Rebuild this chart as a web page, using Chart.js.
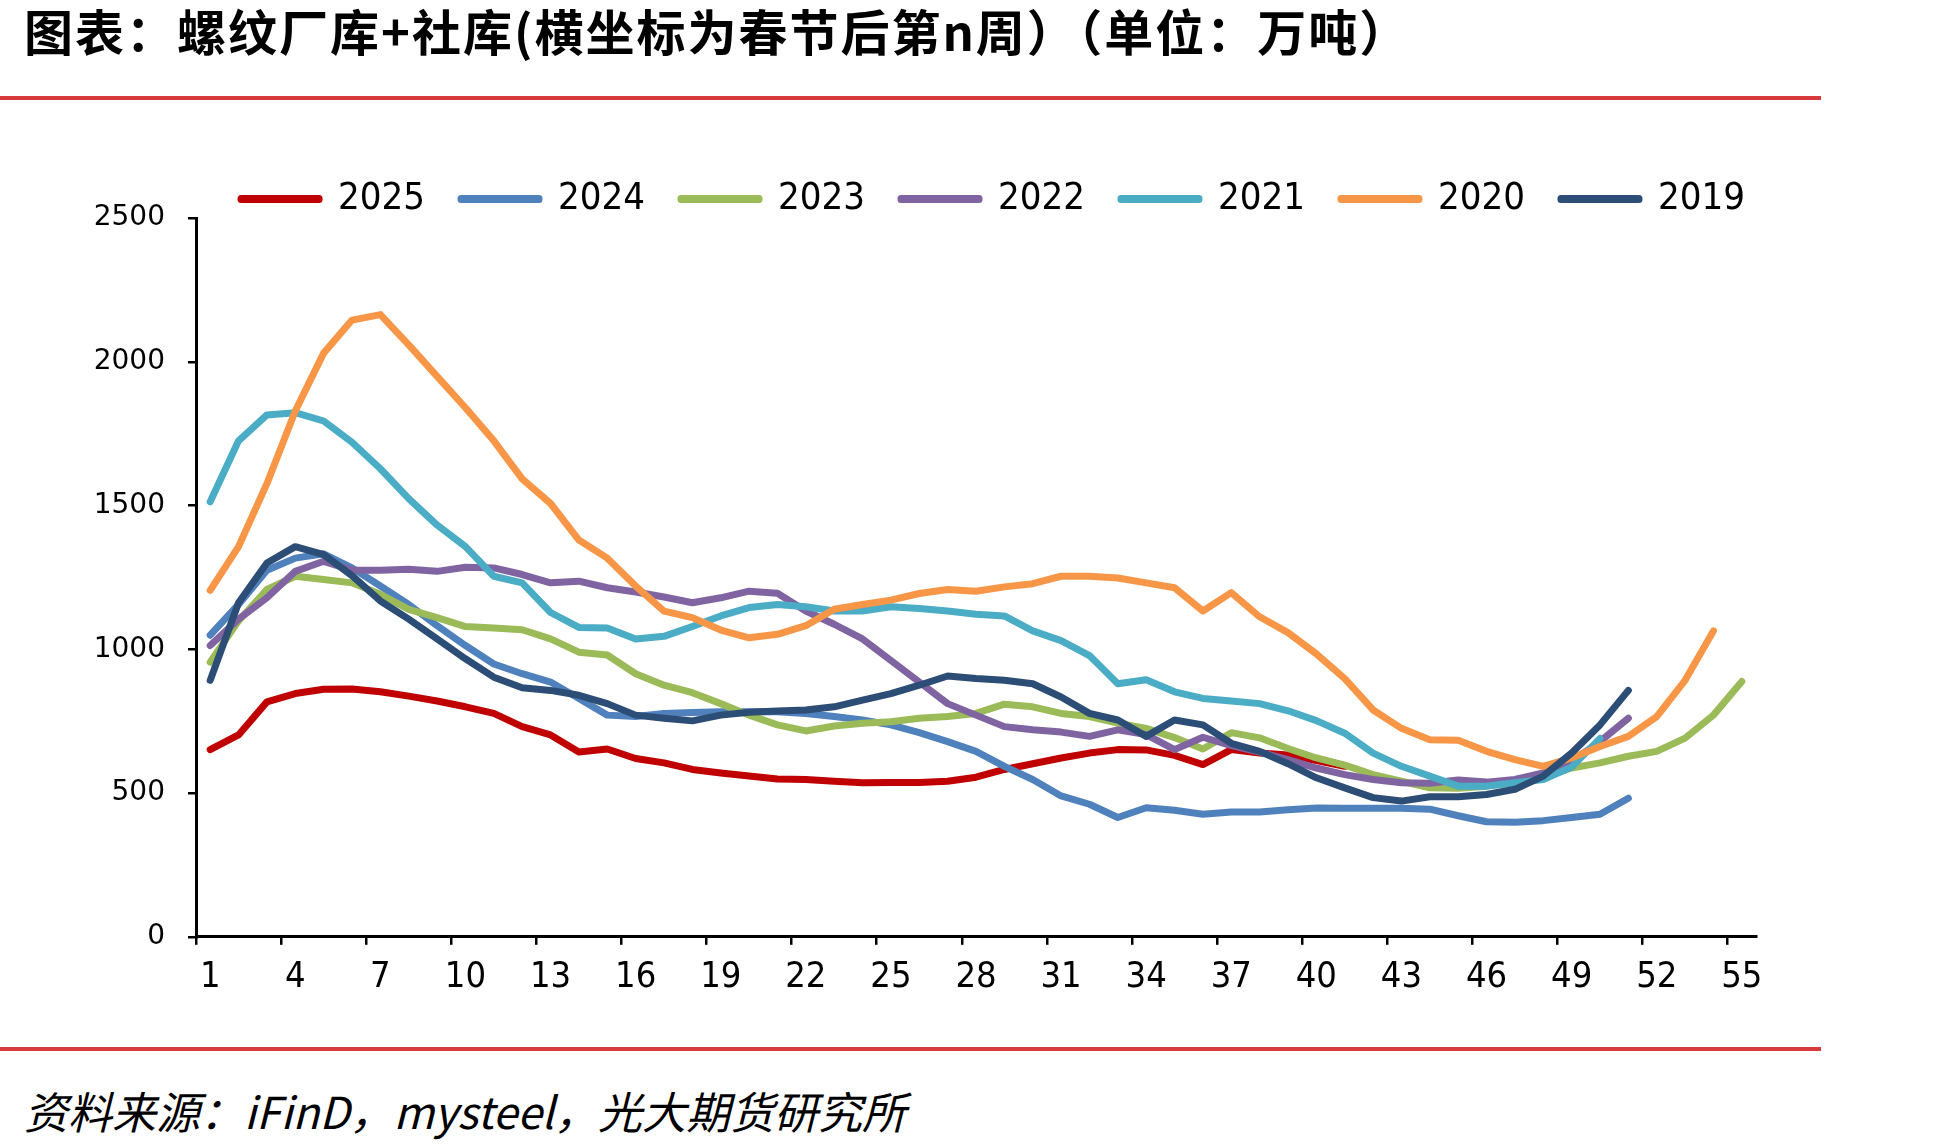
<!DOCTYPE html>
<html lang="zh-CN">
<head>
<meta charset="UTF-8">
<title>螺纹厂库+社库</title>
<script src="https://cdn.jsdelivr.net/npm/chart.js"></script>
<style>
  body {
    margin: 0;
    width: 1960px;
    height: 1146px;
    background: #fff;
    position: relative;
    overflow: hidden;
    font-family: 'Noto Sans CJK SC', sans-serif;
  }
  #title {
    position: absolute;
    left: 24px;
    top: 2px;
    font-size: 49px;
    font-weight: bold;
    letter-spacing: 2px;
    line-height: 56px;
    color: #000;
    white-space: nowrap;
  }
  .rule {
    position: absolute;
    left: 0;
    width: 1821px;
    height: 4px;
    background: #d7393c;
  }
  #source {
    position: absolute;
    left: 24px;
    top: 1086px;
    font-size: 44px;
    font-style: italic;
    line-height: 48px;
    color: #000;
    white-space: nowrap;
  }
  .chart-box {
    position: absolute;
    left: 0;
    top: 120px;
    width: 1960px;
    height: 890px;
  }
</style>
</head>
<body>
<div id="title">图表：螺纹厂库+社库(横坐标为春节后第n周）（单位：万吨）</div>
<div class="rule" style="top:96px"></div>
<div class="chart-box"><canvas id="stockChart"></canvas></div>
<div class="rule" style="top:1047px"></div>
<div id="source">资料来源：iFinD，mysteel，光大期货研究所</div>

<script>
// weeks after Spring Festival
const weeks = [1, 2, 3, 4, 5, 6, 7, 8, 9, 10, 11, 12, 13, 14, 15, 16, 17, 18, 19, 20,
  21, 22, 23, 24, 25, 26, 27, 28, 29, 30, 31, 32, 33, 34, 35, 36, 37, 38, 39, 40,
  41, 42, 43, 44, 45, 46, 47, 48, 49, 50, 51, 52, 53, 54, 55];

const years = ['2025', '2024', '2023', '2022', '2021', '2020', '2019'];
const colors = ['#C00000', '#4F81BD', '#9BBB59', '#8064A2', '#4BACC6', '#F79646', '#2C4D75'];

// rebar plant + social stocks, 10k tonnes
const s2025 = [651, 702, 817, 846, 861, 862, 852, 837, 820, 800, 777, 731, 702, 643, 653, 620, 605, 582, 570, 559,
  549, 547, 541, 536, 537, 537, 541, 555, 582, 602, 622, 639, 651, 650, 631, 599, 651, 639, 632, 613, 593];
const s2024 = [1049, 1156, 1275, 1317, 1332, 1283, 1220, 1156, 1082, 1013, 949, 915, 886, 829, 771, 766, 777, 780, 783, 783,
  783, 777, 766, 754, 737, 710, 679, 645, 593, 547, 490, 461, 415, 449, 440, 426, 434, 434, 442, 448,
  447, 447, 447, 444, 421, 400, 398, 404, 415, 426, 482];
const s2023 = [955, 1099, 1208, 1254, 1243, 1231, 1191, 1139, 1110, 1079, 1074, 1068, 1036, 990, 980, 915, 875, 849, 811, 771,
  737, 716, 733, 743, 748, 760, 766, 777, 809, 800, 777, 766, 743, 725, 693, 653, 710, 692, 655, 622,
  597, 564, 541, 518, 517, 524, 536, 555, 587, 605, 628, 645, 691, 771, 888];
const s2022 = [1013, 1105, 1179, 1271, 1306, 1275, 1275, 1278, 1271, 1285, 1283, 1260, 1231, 1237, 1214, 1199, 1182, 1162, 1179, 1202,
  1195, 1133, 1087, 1036, 961, 886, 811, 771, 731, 720, 712, 697, 720, 703, 651, 694, 665, 642, 616, 587,
  564, 547, 536, 534, 545, 538, 547, 570, 610, 679, 760];
const s2021 = [1513, 1725, 1815, 1823, 1794, 1720, 1628, 1524, 1432, 1357, 1254, 1231, 1128, 1076, 1074, 1036, 1045, 1079, 1116, 1145,
  1156, 1148, 1133, 1133, 1148, 1142, 1133, 1122, 1116, 1064, 1030, 978, 880, 894, 852, 829, 820, 811, 786, 752,
  708, 639, 593, 559, 524, 524, 536, 547, 590, 690];
const s2020 = [1205, 1357, 1576, 1829, 2030, 2145, 2164, 2059, 1949, 1840, 1725, 1593, 1507, 1380, 1317, 1220, 1133, 1110, 1067, 1040,
  1052, 1082, 1139, 1156, 1171, 1194, 1208, 1202, 1217, 1228, 1254, 1254, 1248, 1231, 1214, 1133, 1197, 1113, 1058, 984,
  898, 789, 725, 685, 684, 645, 616, 593, 622, 662, 697, 766, 892, 1064];
const s2019 = [892, 1162, 1300, 1357, 1329, 1256, 1168, 1105, 1036, 967, 903, 866, 857, 840, 811, 771, 760, 751, 771, 781,
  785, 789, 800, 823, 846, 875, 907, 898, 892, 880, 834, 777, 754, 697, 754, 737, 673, 645, 602, 553,
  518, 484, 472, 487, 487, 495, 513, 559, 639, 737, 857];

const series = [s2025, s2024, s2023, s2022, s2021, s2020, s2019];

const narrowFont = "'Liberation Sans Narrow', 'DejaVu Sans Condensed', 'Liberation Sans', sans-serif";

// legend sits tight above the plot and a bit right of the default centre
const legendFit = {
  id: 'legendFit',
  afterInit(chart) {
    const legend = chart.legend;
    const fit = legend.fit;
    legend.fit = function () {
      fit.call(this);
      this.height = 74;
    };
  },
  afterLayout(chart) {
    chart.legend.left += 115;
    chart.legend.right += 115;
  }
};

const datasets = years.map((y, i) => ({
  label: y,
  data: series[i],
  borderColor: colors[i],
  backgroundColor: colors[i],
  borderWidth: 7,
  borderCapStyle: 'round',
  borderJoinStyle: 'round',
  pointRadius: 0,
  tension: 0,
  fill: false,
  order: years.length - i   // 2019 ends up on top
}));

new Chart(document.getElementById('stockChart'), {
  type: 'line',
  data: { labels: weeks, datasets: datasets },
  plugins: [legendFit],
  options: {
    responsive: true,
    maintainAspectRatio: false,
    animation: false,
    devicePixelRatio: 1,
    layout: { padding: { top: 24, left: 0, right: 204, bottom: 0 } },
    plugins: {
      tooltip: { enabled: false },
      legend: {
        position: 'top',
        labels: {
          boxWidth: 78,
          boxHeight: 1,
          padding: 36,
          color: '#000',
          font: { family: narrowFont, size: 38 },
          sort: (a, b) => a.datasetIndex - b.datasetIndex
        }
      }
    },
    scales: {
      x: {
        offset: true,
        border: { display: true, color: '#000', width: 3 },
        grid: {
          offset: true,
          drawOnChartArea: false,
          drawTicks: true,
          tickLength: 8,
          lineWidth: 2.5,
          color: (c) => c.index % 3 === 0 ? '#000' : 'rgba(0,0,0,0)'
        },
        ticks: {
          autoSkip: false,
          maxRotation: 0,
          minRotation: 0,
          padding: 11,
          color: '#000',
          font: { family: narrowFont, size: 36 },
          callback: function (val, i) {
            return i % 3 === 0 ? this.getLabelForValue(val) : '';
          }
        }
      },
      y: {
        min: 0,
        max: 2500,
        afterFit: (s) => { s.width = 196; },
        border: { display: true, color: '#000', width: 3 },
        grid: {
          drawOnChartArea: false,
          drawTicks: true,
          tickLength: 8,
          lineWidth: 2.5,
          color: '#000'
        },
        ticks: {
          stepSize: 500,
          padding: 23,
          color: '#000',
          font: { family: "'DejaVu Sans', sans-serif", size: 28 },
          callback: (v) => String(v)
        }
      }
    }
  }
});
</script>
</body>
</html>
